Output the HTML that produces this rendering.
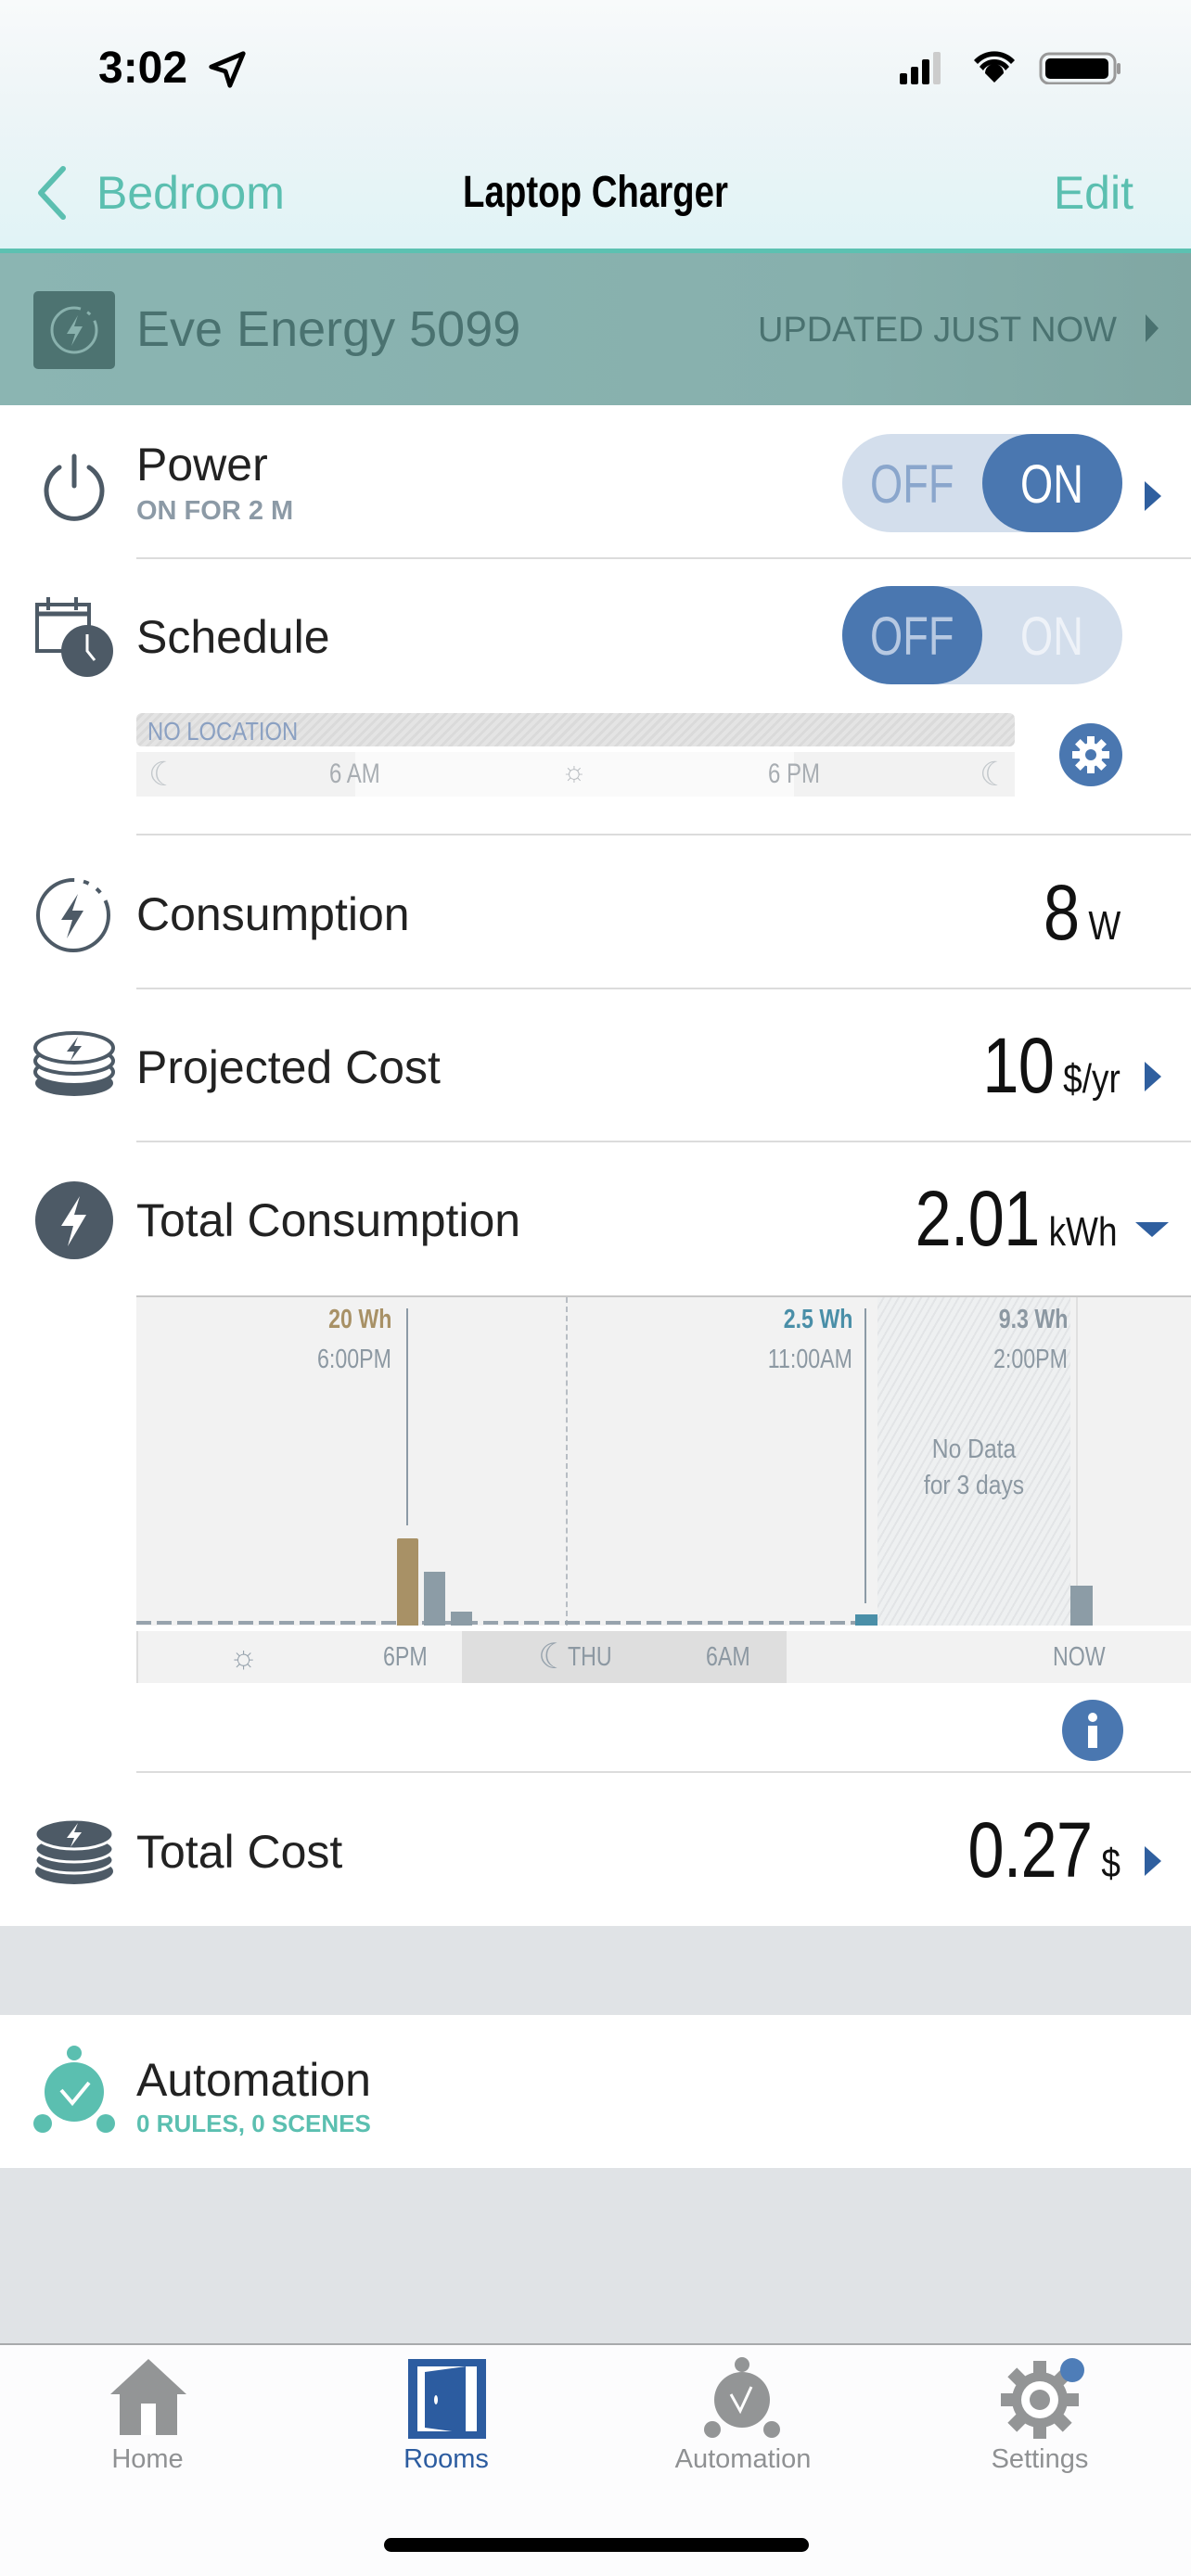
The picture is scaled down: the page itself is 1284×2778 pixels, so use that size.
<!DOCTYPE html>
<html><head><meta charset="utf-8">
<style>
*{margin:0;padding:0;box-sizing:border-box}
body{width:1284px;height:2778px;position:relative;overflow:hidden;background:#fff;font-family:"Liberation Sans",sans-serif}
.a{position:absolute;white-space:nowrap}
.n{font-family:"Liberation Sans Narrow","Liberation Sans",sans-serif}
.sep{position:absolute;left:147px;right:0;height:2px;background:#dcdcdc}
.lbl{position:absolute;left:147px;font-size:50px;color:#222;line-height:1}
.tri{position:absolute;width:0;height:0;border-top:16px solid transparent;border-bottom:16px solid transparent;border-left:18px solid #2f5f9f}
.val{position:absolute;right:76px;display:flex;align-items:baseline;color:#111;transform:scaleX(0.84);transform-origin:right center}
.val .b{font-size:84px;letter-spacing:-1px}
.val .u{font-size:44px;margin-left:12px}
.tg{position:absolute;font-size:58px;transform:scaleX(0.78);transform-origin:left top}
</style></head><body>
<!-- header -->
<div class="a" style="left:0;top:0;width:1284px;height:271px;background:linear-gradient(#f8fafb 0%,#eef5f7 40%,#e0f3f6 100%)"></div>
<div class="a" style="left:106px;top:46px;font-size:48px;font-weight:bold;color:#000">3:02</div>
<svg class="a" style="left:222px;top:52px" width="46" height="46" viewBox="0 0 24 24"><path d="M21 3L3 10.5l8 2.5 2.5 8z" fill="none" stroke="#000" stroke-width="2.5" stroke-linejoin="round"/></svg>
<svg class="a" style="left:970px;top:55px" width="240" height="36" viewBox="0 0 240 36">
<rect x="0" y="24" width="8" height="12" rx="2" fill="#000"/><rect x="12" y="17" width="8" height="19" rx="2" fill="#000"/><rect x="24" y="9" width="8" height="27" rx="2" fill="#000"/><rect x="36" y="1" width="8" height="35" rx="2" fill="#ccc"/>
<path d="M80 10a30 30 0 0 1 44 0l-4 4a24 24 0 0 0-36 0z M86 17a20 20 0 0 1 32 0l-4 4a14 14 0 0 0-24 0z M92 24a10 10 0 0 1 20 0l-10 10z" fill="#000"/>
<rect x="152" y="3" width="80" height="32" rx="9" fill="none" stroke="#999" stroke-width="3"/><rect x="157" y="8" width="68" height="22" rx="5" fill="#000"/><rect x="234" y="13" width="4" height="12" rx="2" fill="#999"/>
</svg>
<svg class="a" style="left:38px;top:178px" width="36" height="60" viewBox="0 0 36 60"><path d="M30 4L6 30l24 26" fill="none" stroke="#5bbfb0" stroke-width="6" stroke-linecap="round" stroke-linejoin="round"/></svg>
<div class="a" style="left:104px;top:179px;font-size:50px;color:#5bbfb0">Bedroom</div>
<div class="a" style="left:642px;top:180px;font-size:48px;font-weight:bold;color:#000;transform:translateX(-50%) scaleX(0.8)">Laptop Charger</div>
<div class="a" style="right:62px;top:179px;font-size:50px;color:#5bbfb0">Edit</div>
<div class="a" style="left:0;top:268px;width:1284px;height:5px;background:#5cc1b1"></div>
<!-- banner -->
<div class="a" style="left:0;top:273px;width:1284px;height:164px;background:linear-gradient(90deg,#8bb5b2,#87b0ad 70%,#80a7a3)"></div>
<div class="a" style="left:36px;top:314px;width:88px;height:84px;background:#4d7371;border-radius:5px"></div>
<svg class="a" style="left:48px;top:324px" width="64" height="64" viewBox="0 0 64 64"><circle cx="32" cy="32" r="24" fill="none" stroke="#89b1ad" stroke-width="3" stroke-dasharray="120 8 4 8"/><path d="M36 16L24 36h9l-4 13 12-21h-9z" fill="#89b1ad"/></svg>
<div class="a" style="left:147px;top:324px;font-size:54px;color:#4a7270">Eve Energy 5099</div>
<div class="a n" style="right:80px;top:335px;font-size:38px;color:#4a7270">UPDATED JUST NOW</div>
<div class="tri" style="left:1235px;top:339px;border-left-color:#4a7270;border-top-width:15px;border-bottom-width:15px;border-left-width:14px"></div>
<!-- power -->
<svg class="a" style="left:40px;top:484px" width="80" height="80" viewBox="0 0 80 80"><path d="M24 20a30 30 0 1 0 32 0" fill="none" stroke="#4d5a66" stroke-width="5" stroke-linecap="round"/><line x1="40" y1="8" x2="40" y2="40" stroke="#4d5a66" stroke-width="5" stroke-linecap="round"/></svg>
<div class="lbl" style="top:476px">Power</div>
<div class="a n" style="left:147px;top:535px;font-size:29px;font-weight:bold;color:#8c9aa6">ON FOR 2 M</div>
<div class="a" style="left:908px;top:468px;width:302px;height:106px;border-radius:53px;background:#d3deec"></div>
<div class="a" style="left:1059px;top:468px;width:151px;height:106px;border-radius:53px;background:#4a77b0"></div>
<div class="tg" style="left:938px;top:489px;color:#8aa6cc">OFF</div>
<div class="tg" style="left:1100px;top:489px;color:#fff">ON</div>
<div class="tri" style="left:1234px;top:519px"></div>
<div class="sep" style="top:601px"></div>
<!-- schedule -->
<svg class="a" style="left:38px;top:640px" width="90" height="90" viewBox="0 0 90 90"><rect x="2" y="12" width="56" height="50" fill="none" stroke="#4d5a66" stroke-width="4"/><line x1="2" y1="22" x2="58" y2="22" stroke="#4d5a66" stroke-width="5"/><line x1="14" y1="4" x2="14" y2="18" stroke="#4d5a66" stroke-width="4"/><line x1="44" y1="4" x2="44" y2="18" stroke="#4d5a66" stroke-width="4"/><circle cx="56" cy="62" r="28" fill="#4d5a66"/><path d="M56 44v18l8 10" fill="none" stroke="#fff" stroke-width="3"/></svg>
<div class="lbl" style="top:662px">Schedule</div>
<div class="a" style="left:908px;top:632px;width:302px;height:106px;border-radius:53px;background:#d3deec"></div>
<div class="a" style="left:908px;top:632px;width:151px;height:106px;border-radius:53px;background:#4a77b0"></div>
<div class="tg" style="left:938px;top:653px;color:#b7c9e2">OFF</div>
<div class="tg" style="left:1100px;top:653px;color:#eef2f8">ON</div>
<div class="a" style="left:147px;top:769px;width:947px;height:36px;border-radius:6px;background:repeating-linear-gradient(135deg,#e4e4e4 0 4px,#dadada 4px 7px)"></div>
<div class="a" style="left:159px;top:773px;font-size:28px;color:#8aa0c2;transform:scaleX(0.85);transform-origin:left">NO LOCATION</div>
<div class="a" style="left:147px;top:811px;width:947px;height:48px;background:#f2f2f2"></div>
<div class="a" style="left:383px;top:811px;width:473px;height:48px;background:#fafafa"></div>
<div class="a" style="left:160px;top:814px;font-size:36px;color:#c3c8cc">☾</div>
<div class="a" style="left:355px;top:818px;font-size:30px;color:#a8adb2;transform:scaleX(0.8);transform-origin:left">6 AM</div>
<div class="a" style="left:605px;top:816px;font-size:30px;color:#b8bcc0">☼</div>
<div class="a" style="left:828px;top:818px;font-size:30px;color:#a8adb2;transform:scaleX(0.8);transform-origin:left">6 PM</div>
<div class="a" style="left:1056px;top:814px;font-size:36px;color:#c3c8cc">☾</div>
<svg class="a" style="left:1140px;top:778px" width="72" height="72" viewBox="0 0 72 72"><circle cx="36" cy="36" r="34" fill="#4a77b0"/><g fill="#fff" transform="translate(36 36)"><circle r="13"/><rect x="-4" y="-20" width="8" height="40"/><rect x="-4" y="-20" width="8" height="40" transform="rotate(45)"/><rect x="-4" y="-20" width="8" height="40" transform="rotate(90)"/><rect x="-4" y="-20" width="8" height="40" transform="rotate(135)"/><circle r="6" fill="#4a77b0"/></g></svg>
<div class="sep" style="top:899px"></div>
<!-- consumption -->
<svg class="a" style="left:36px;top:944px" width="86" height="86" viewBox="0 0 86 86"><circle cx="43" cy="43" r="38" fill="none" stroke="#4d5a66" stroke-width="4" stroke-dasharray="180 10 6 10 6 10"/><path d="M48 20L30 48h12l-6 20 18-30H42z" fill="#4d5a66"/></svg>
<div class="lbl" style="top:961px">Consumption</div>
<div class="val" style="top:936px"><span class="b">8</span><span class="u">W</span></div>
<div class="sep" style="top:1065px"></div>
<!-- projected cost -->
<svg class="a" style="left:34px;top:1106px" width="92" height="84" viewBox="0 0 92 84"><ellipse cx="46" cy="62" rx="42" ry="14" fill="#4d5a66"/><ellipse cx="46" cy="50" rx="42" ry="14" fill="#fff" stroke="#4d5a66" stroke-width="4"/><ellipse cx="46" cy="38" rx="42" ry="14" fill="#fff" stroke="#4d5a66" stroke-width="4"/><ellipse cx="46" cy="24" rx="42" ry="16" fill="#fff" stroke="#4d5a66" stroke-width="4"/><path d="M50 12L38 28h8l-4 10 12-16h-8z" fill="#4d5a66"/></svg>
<div class="lbl" style="top:1126px">Projected Cost</div>
<div class="val" style="top:1101px"><span class="b">10</span><span class="u">$/yr</span></div>
<div class="tri" style="left:1234px;top:1145px"></div>
<div class="sep" style="top:1230px"></div>
<!-- total consumption -->
<svg class="a" style="left:36px;top:1272px" width="88" height="88" viewBox="0 0 88 88"><circle cx="44" cy="44" r="42" fill="#4d5a66"/><path d="M50 18L30 50h13l-6 22 20-34H44z" fill="#fff"/></svg>
<div class="lbl" style="top:1291px">Total Consumption</div>
<div class="val" style="top:1266px;right:80px"><span class="b">2.01</span><span class="u">kWh</span></div>
<div class="a" style="left:1224px;top:1318px;width:0;height:0;border-left:18px solid transparent;border-right:18px solid transparent;border-top:16px solid #2f5f9f"></div>
<!-- chart -->
<div class="a" style="left:147px;top:1397px;width:1137px;height:356px;background:#f2f2f2;border-top:2px solid #c8c8c8"></div>
<div class="a" style="left:946px;top:1399px;width:208px;height:354px;background:repeating-linear-gradient(120deg,#eef0f1 0 5px,#e2e4e6 5px 7px)"></div>
<div class="a" style="left:1160px;top:1399px;width:2px;height:354px;background:#e0e0e0"></div>
<div class="a" style="left:610px;top:1399px;width:0;height:354px;border-left:2px dashed #b8bec4"></div>
<div class="a" style="left:147px;top:1748px;width:790px;height:4px;background:repeating-linear-gradient(90deg,#97a3ad 0 16px,transparent 16px 22px)"></div>
<div class="a" style="left:438px;top:1411px;width:2px;height:234px;background:#8c9aa6"></div>
<div class="a" style="left:932px;top:1411px;width:2px;height:318px;background:#8c9aa6"></div>
<div class="a" style="left:428px;top:1659px;width:23px;height:94px;background:#a89166;border-radius:2px 2px 0 0"></div>
<div class="a" style="left:457px;top:1695px;width:23px;height:58px;background:#8c9ca6"></div>
<div class="a" style="left:486px;top:1738px;width:23px;height:15px;background:#8c9ca6"></div>
<div class="a" style="left:922px;top:1741px;width:24px;height:12px;background:#4a8fa8"></div>
<div class="a" style="left:1154px;top:1710px;width:24px;height:43px;background:#8c9ca6"></div>
<div class="a" style="right:862px;top:1407px;font-size:29px;font-weight:bold;color:#a89166;transform:scaleX(0.8);transform-origin:right">20 Wh</div>
<div class="a" style="right:862px;top:1450px;font-size:29px;color:#8c98a2;transform:scaleX(0.8);transform-origin:right">6:00PM</div>
<div class="a" style="right:365px;top:1407px;font-size:29px;font-weight:bold;color:#4a8fa8;transform:scaleX(0.8);transform-origin:right">2.5 Wh</div>
<div class="a" style="right:365px;top:1450px;font-size:29px;color:#8c98a2;transform:scaleX(0.8);transform-origin:right">11:00AM</div>
<div class="a" style="right:133px;top:1407px;font-size:29px;font-weight:bold;color:#8c98a2;transform:scaleX(0.8);transform-origin:right">9.3 Wh</div>
<div class="a" style="right:133px;top:1450px;font-size:29px;color:#8c98a2;transform:scaleX(0.8);transform-origin:right">2:00PM</div>
<div class="a" style="left:946px;width:208px;text-align:center;top:1544px;font-size:29px;line-height:39px;color:#8c98a2;transform:scaleX(0.85)">No Data<br>for 3 days</div>
<div class="a" style="left:147px;top:1759px;width:1137px;height:56px;background:#f2f2f2;border-left:2px solid #ddd"></div>
<div class="a" style="left:498px;top:1759px;width:350px;height:56px;background:#dedede"></div>
<div class="a" style="left:247px;top:1768px;font-size:34px;color:#97a3ad">☼</div>
<div class="a" style="left:413px;top:1771px;font-size:29px;color:#8c98a2;transform:scaleX(0.8);transform-origin:left">6PM</div>
<div class="a" style="left:580px;top:1764px;font-size:38px;color:#97a3ad">☾</div>
<div class="a" style="left:612px;top:1771px;font-size:29px;color:#8c98a2;transform:scaleX(0.8);transform-origin:left">THU</div>
<div class="a" style="left:761px;top:1771px;font-size:29px;color:#8c98a2;transform:scaleX(0.8);transform-origin:left">6AM</div>
<div class="a" style="left:1135px;top:1771px;font-size:29px;color:#8c98a2;transform:scaleX(0.8);transform-origin:left">NOW</div>
<svg class="a" style="left:1144px;top:1832px" width="68" height="68" viewBox="0 0 68 68"><circle cx="34" cy="34" r="33" fill="#4a77b0"/><circle cx="34" cy="20" r="5" fill="#fff"/><rect x="29" y="29" width="10" height="24" fill="#fff"/></svg>
<div class="sep" style="top:1910px"></div>
<!-- total cost -->
<svg class="a" style="left:34px;top:1954px" width="92" height="84" viewBox="0 0 92 84"><ellipse cx="46" cy="64" rx="42" ry="14" fill="#4d5a66"/><ellipse cx="46" cy="52" rx="42" ry="14" fill="#4d5a66" stroke="#fff" stroke-width="3"/><ellipse cx="46" cy="40" rx="42" ry="14" fill="#4d5a66" stroke="#fff" stroke-width="3"/><ellipse cx="46" cy="24" rx="42" ry="16" fill="#4d5a66" stroke="#fff" stroke-width="3"/><path d="M50 12L38 28h8l-4 10 12-16h-8z" fill="#fff"/></svg>
<div class="lbl" style="top:1972px">Total Cost</div>
<div class="val" style="top:1947px"><span class="b">0.27</span><span class="u">$</span></div>
<div class="tri" style="left:1234px;top:1991px"></div>
<div class="a" style="left:0;top:2077px;width:1284px;height:96px;background:#e0e3e6"></div>
<!-- automation -->
<svg class="a" style="left:34px;top:2206px" width="92" height="96" viewBox="0 0 92 96"><circle cx="46" cy="8" r="8" fill="#5bbfb0"/><circle cx="46" cy="50" r="32" fill="#5bbfb0"/><circle cx="12" cy="84" r="10" fill="#5bbfb0"/><circle cx="80" cy="84" r="10" fill="#5bbfb0"/><path d="M32 48l12 14 18-22" fill="none" stroke="#fff" stroke-width="4"/></svg>
<div class="lbl" style="top:2218px">Automation</div>
<div class="a n" style="left:147px;top:2275px;font-size:26px;font-weight:bold;color:#5bbfb0">0 RULES, 0 SCENES</div>
<div class="a" style="left:0;top:2338px;width:1284px;height:189px;background:#e0e3e6"></div>
<!-- tab bar -->
<div class="a" style="left:0;top:2527px;width:1284px;height:251px;background:#fcfcfd;border-top:2px solid #a8aaac"></div>
<svg class="a" style="left:117px;top:2542px" width="86" height="86" viewBox="0 0 86 86"><path d="M43 2L2 40h10v44h62V40h10z" fill="#939596"/><rect x="35" y="50" width="16" height="34" fill="#fff"/></svg>
<div class="a" style="left:0;width:318px;text-align:center;top:2636px;font-size:29px;color:#8f9193">Home</div>
<svg class="a" style="left:440px;top:2544px" width="84" height="86" viewBox="0 0 84 86"><rect x="0" y="0" width="84" height="86" fill="#2c5ca0"/><rect x="10" y="8" width="64" height="70" fill="#fff"/><path d="M18 14l44-6v72l-44-6z" fill="#2c5ca0"/><ellipse cx="30" cy="44" rx="2" ry="5" fill="#fff"/></svg>
<div class="a" style="left:320px;width:322px;text-align:center;top:2636px;font-size:29px;color:#2c5ca0">Rooms</div>
<svg class="a" style="left:756px;top:2542px" width="88" height="88" viewBox="0 0 88 88"><circle cx="44" cy="8" r="8" fill="#939596"/><circle cx="44" cy="46" r="30" fill="#939596"/><circle cx="12" cy="78" r="9" fill="#939596"/><circle cx="76" cy="78" r="9" fill="#939596"/><path d="M32 40l10 18 12-26" fill="none" stroke="#fff" stroke-width="3"/></svg>
<div class="a" style="left:642px;width:318px;text-align:center;top:2636px;font-size:29px;color:#8f9193">Automation</div>
<svg class="a" style="left:1078px;top:2542px" width="96" height="88" viewBox="0 0 96 88"><g fill="#939596" transform="translate(43 46)"><circle r="30"/><rect x="-7" y="-42" width="14" height="84"/><rect x="-7" y="-42" width="14" height="84" transform="rotate(45)"/><rect x="-7" y="-42" width="14" height="84" transform="rotate(90)"/><rect x="-7" y="-42" width="14" height="84" transform="rotate(135)"/><circle r="20" fill="#fff"/><circle r="11"/></g><circle cx="78" cy="14" r="13" fill="#4e7db8"/></svg>
<div class="a" style="left:962px;width:318px;text-align:center;top:2636px;font-size:29px;color:#8f9193">Settings</div>
<div class="a" style="left:414px;top:2737px;width:458px;height:15px;border-radius:8px;background:#000"></div>
</body></html>
